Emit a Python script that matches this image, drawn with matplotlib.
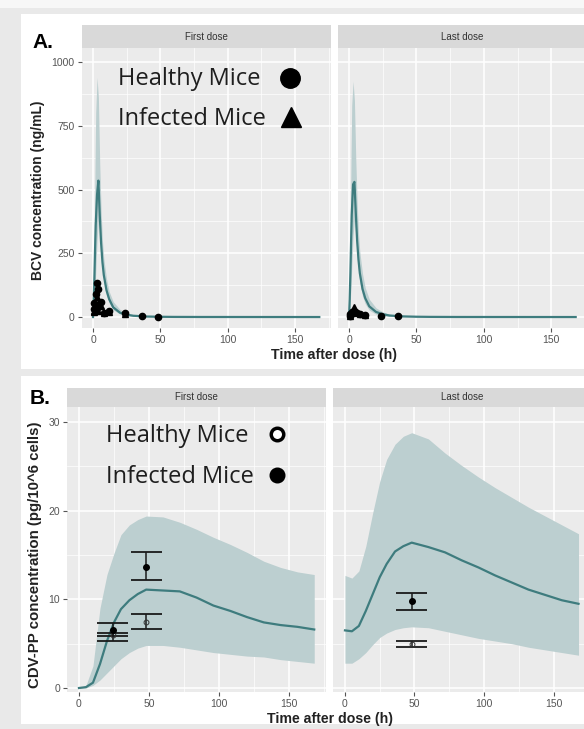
import matplotlib
matplotlib.use("Agg")
import matplotlib.pyplot as plt
from matplotlib.patches import Rectangle
from matplotlib.lines import Line2D

# ---------------- data ----------------
# Panel A: BCV plasma concentration (ng/mL)
t_A = [0, 0.5, 1, 1.5, 2, 3, 4, 5, 6, 7, 8, 10, 12, 15, 20, 25, 30, 40, 50, 60, 80, 168]
bcv_first_med = [0, 60, 150, 260, 360, 480, 535, 400, 290, 215, 165, 105, 70, 38, 17, 9, 5, 2, 1, 0.5, 0.2, 0]
bcv_first_hi = [0, 150, 350, 600, 800, 940, 860, 600, 420, 300, 230, 150, 100, 60, 30, 16, 9, 3, 1.5, 0.8, 0.3, 0]
bcv_first_lo = [0, 20, 60, 110, 170, 300, 380, 330, 250, 185, 140, 85, 55, 28, 12, 6, 3, 1, 0.5, 0.2, 0, 0]
bcv_last_med = [0, 70, 170, 290, 400, 520, 530, 410, 300, 225, 172, 110, 74, 42, 20, 11, 6, 2.5, 1.2, 0.6, 0.2, 0]
bcv_last_hi = [0, 160, 380, 640, 830, 925, 850, 620, 450, 330, 255, 170, 115, 70, 36, 20, 11, 4, 2, 1, 0.4, 0]
bcv_last_lo = [0, 25, 70, 125, 190, 320, 380, 320, 245, 180, 135, 82, 52, 27, 11, 5, 2.5, 1, 0.4, 0.2, 0, 0]

healthy_first_t = [0.5, 1, 2, 3, 4, 4, 6, 8, 12, 24, 36, 48]
healthy_first_c = [55, 30, 90, 135, 108, 40, 60, 15, 25, 15, 5, 2]
infected_first_t = [0.5, 1, 2, 3, 4, 6, 8, 12, 24]
infected_first_c = [25, 20, 30, 80, 25, 45, 15, 20, 10]
healthy_last_t = [0.5, 1, 2, 4, 6, 8, 12, 24, 36]
healthy_last_c = [3, 10, 20, 25, 15, 10, 8, 5, 5]
infected_last_t = [1, 2, 4, 6, 8, 12]
infected_last_c = [5, 15, 38, 20, 12, 8]

# Panel B: CDV-PP intracellular concentration (pg/10^6 cells)
t_B = [0, 5, 10, 15, 20, 25, 30, 36, 42, 48, 60, 72, 84, 96, 108, 120, 132, 144, 156, 168]
cdv_first_med = [0, 0.1, 0.6, 2.7, 5.3, 7.4, 8.9, 9.9, 10.6, 11.1, 11.0, 10.9, 10.2, 9.3, 8.7, 8.0, 7.4, 7.1, 6.9, 6.6]
cdv_first_hi = [0, 0.3, 2.5, 9.0, 12.8, 15.2, 17.3, 18.4, 19.0, 19.4, 19.3, 18.7, 17.9, 17.0, 16.2, 15.3, 14.3, 13.6, 13.1, 12.8]
cdv_first_lo = [0, 0, 0.3, 0.9, 1.7, 2.5, 3.3, 4.0, 4.5, 4.8, 4.8, 4.6, 4.3, 4.0, 3.8, 3.6, 3.5, 3.2, 3.0, 2.8]
cdv_last_med = [6.5, 6.4, 7.0, 8.7, 10.6, 12.5, 14.0, 15.4, 16.0, 16.4, 15.9, 15.3, 14.4, 13.6, 12.7, 11.9, 11.1, 10.5, 9.9, 9.5]
cdv_last_hi = [12.7, 12.4, 13.2, 16.0, 19.8, 23.3, 25.8, 27.5, 28.4, 28.8, 28.1, 26.5, 25.1, 23.8, 22.6, 21.5, 20.4, 19.4, 18.4, 17.4]
cdv_last_lo = [2.8, 2.8, 3.3, 4.0, 4.9, 5.7, 6.2, 6.6, 6.8, 6.9, 6.8, 6.4, 6.0, 5.6, 5.3, 5.0, 4.6, 4.3, 4.0, 3.7]

obs_first_t = [24, 48]
inf_first_mean = [6.6, 13.7]
inf_first_lo = [5.3, 12.2]
inf_first_hi = [7.3, 15.3]
hea_first_mean = [6.0, 7.5]
hea_first_lo = [5.85, 6.7]
hea_first_hi = [6.2, 8.4]
obs_last_t = [48]
inf_last_mean = [9.85]
inf_last_lo = [8.8]
inf_last_hi = [10.75]
hea_last_mean = [4.95]
hea_last_lo = [4.65]
hea_last_hi = [5.3]

x_ticks = [0, 50, 100, 150]
x_minor = [25, 75, 125, 175]
yA_ticks = [0, 250, 500, 750, 1000]
yA_minor = [125, 375, 625, 875]
yB_ticks = [0, 10, 20, 30]
yB_minor = [5, 15, 25]

# ---------------- styling ----------------
W, H = 584, 729
PANEL_BG = "#ebebeb"
STRIP_BG = "#d9d9d9"
BAND = "#bccfd0"
LINE = "#3e7c7e"
SANS = ["Liberation Sans", "DejaVu Sans"]
plt.rcParams["font.family"] = SANS

fig = plt.figure(figsize=(W / 100, H / 100), dpi=100)
fig.patch.set_facecolor("#e9e9e9")


def rect(x0, y0, x1, y1):
    """pixel box (origin top-left) -> figure fraction rect"""
    return [x0 / W, 1 - y1 / H, (x1 - x0) / W, (y1 - y0) / H]


def fx(x):
    return x / W


def fy(y):
    return 1 - y / H


# light frame with white panels
fig.add_artist(Rectangle((0, fy(8)), 1, 8 / H, transform=fig.transFigure,
                         facecolor="#f7f7f7", edgecolor="none", zorder=-5))
for (x0, y0, x1, y1) in [(21, 14, 584, 369), (21, 376, 584, 724)]:
    fig.add_artist(Rectangle((fx(x0), fy(y1)), (x1 - x0) / W, (y1 - y0) / H,
                             transform=fig.transFigure, facecolor="white",
                             edgecolor="none", zorder=-4))


def make_panel(box, strip_box, title, xlim, ylim, yt, ym, show_y):
    ax = fig.add_axes(rect(*box))
    ax.set_facecolor(PANEL_BG)
    ax.set_xlim(*xlim)
    ax.set_ylim(*ylim)
    for s in ax.spines.values():
        s.set_visible(False)
    ax.set_xticks(x_ticks)
    ax.set_xticks(x_minor, minor=True)
    ax.set_yticks(yt)
    ax.set_yticks(ym, minor=True)
    ax.grid(which="major", color="white", lw=1.1)
    ax.grid(which="minor", color="white", lw=0.5)
    ax.set_axisbelow(True)
    ax.tick_params(which="major", length=3, width=0.8, color="#555555",
                   labelsize=7.5, labelcolor="#555555", pad=2)
    ax.tick_params(which="minor", length=0)
    if not show_y:
        ax.tick_params(axis="y", which="both", length=0, labelleft=False)
    sax = fig.add_axes(rect(*strip_box))
    sax.set_facecolor(STRIP_BG)
    sax.set_xticks([])
    sax.set_yticks([])
    for s in sax.spines.values():
        s.set_visible(False)
    sax.text(0.5, 0.5, title, ha="center", va="center", fontsize=7,
             color="#333333", transform=sax.transAxes)
    return ax


XL = (-8.4, 176.4)
YA = (-43, 1055)
YB = (-0.45, 31.7)

# ---- Panel A ----
axA1 = make_panel((81.7, 48, 330.6, 328), (81.7, 25, 330.6, 48), "First dose", XL, YA, yA_ticks, yA_minor, True)
axA2 = make_panel((337.7, 48, 587, 328), (337.7, 25, 587, 48), "Last dose", XL, YA, yA_ticks, yA_minor, False)

for ax, lo, hi, med in [(axA1, bcv_first_lo, bcv_first_hi, bcv_first_med),
                        (axA2, bcv_last_lo, bcv_last_hi, bcv_last_med)]:
    ax.fill_between(t_A, lo, hi, color=BAND, lw=0, zorder=2)
    ax.plot(t_A, med, color=LINE, lw=1.6, zorder=3)

axA1.plot(healthy_first_t, healthy_first_c, "o", color="black", ms=4.5, zorder=4)
axA1.plot(infected_first_t, infected_first_c, "^", color="black", ms=4.5, zorder=4)
axA2.plot(healthy_last_t, healthy_last_c, "o", color="black", ms=4.5, zorder=4)
axA2.plot(infected_last_t, infected_last_c, "^", color="black", ms=4.5, zorder=4)

# ---- Panel B ----
axB1 = make_panel((67.2, 407, 326, 692), (67.2, 388, 326, 407), "First dose", XL, YB, yB_ticks, yB_minor, True)
axB2 = make_panel((333.3, 407, 590.2, 692), (333.3, 388, 590.2, 407), "Last dose", XL, YB, yB_ticks, yB_minor, False)

for ax, lo, hi, med in [(axB1, cdv_first_lo, cdv_first_hi, cdv_first_med),
                        (axB2, cdv_last_lo, cdv_last_hi, cdv_last_med)]:
    ax.fill_between(t_B, lo, hi, color=BAND, lw=0, zorder=2)
    ax.plot(t_B, med, color=LINE, lw=1.6, zorder=3)

CAP = 11  # half-width of error-bar caps, hours


def errbars(ax, t, mean, lo, hi, filled):
    ax.vlines(t, lo, hi, color="#1a1a1a", lw=1.1, zorder=5)
    ax.hlines(lo, [v - CAP for v in t], [v + CAP for v in t], color="#1a1a1a", lw=1.3, zorder=5)
    ax.hlines(hi, [v - CAP for v in t], [v + CAP for v in t], color="#1a1a1a", lw=1.3, zorder=5)
    if filled:
        ax.plot(t, mean, "o", color="black", ms=4, zorder=6)
    else:
        ax.plot(t, mean, "o", mfc="none", mec="#333333", mew=0.7, ms=3.5, zorder=6)


errbars(axB1, obs_first_t, hea_first_mean, hea_first_lo, hea_first_hi, False)
errbars(axB1, obs_first_t, inf_first_mean, inf_first_lo, inf_first_hi, True)
errbars(axB2, obs_last_t, hea_last_mean, hea_last_lo, hea_last_hi, False)
errbars(axB2, obs_last_t, inf_last_mean, inf_last_lo, inf_last_hi, True)

# ---- titles and labels ----
fig.text(fx(32), fy(48), "A.", fontsize=15, fontweight="bold", ha="left", va="baseline")
fig.text(fx(30), fy(404), "B.", fontsize=15, fontweight="bold", ha="left", va="baseline")

fig.text(fx(38), fy(190), "BCV concentration (ng/mL)", rotation=90, ha="center", va="center",
         fontsize=10, fontweight="bold", color="#222222")
fig.text(fx(35), fy(555), "CDV-PP concentration (pg/10^6 cells)", rotation=90, ha="center",
         va="center", fontsize=10.8, fontweight="bold", color="#222222")
fig.text(fx(334), fy(355), "Time after dose (h)", ha="center", va="center",
         fontsize=10.2, fontweight="bold", color="#222222")
fig.text(fx(330), fy(719), "Time after dose (h)", ha="center", va="center",
         fontsize=10.2, fontweight="bold", color="#222222")

# ---- in-plot keys ----
KEY_FONT = ["Open Sans", "DejaVu Sans"]
fig.text(fx(118), fy(85), "Healthy Mice", family=KEY_FONT, fontsize=17, color="#1e1e1e")
fig.text(fx(118), fy(125), "Infected Mice", family=KEY_FONT, fontsize=17, color="#1e1e1e")
fig.text(fx(106), fy(442), "Healthy Mice", family=KEY_FONT, fontsize=17, color="#1e1e1e")
fig.text(fx(106), fy(483), "Infected Mice", family=KEY_FONT, fontsize=17, color="#1e1e1e")

fig.add_artist(Line2D([fx(290)], [fy(78)], marker="o", ms=14, color="black", transform=fig.transFigure))
fig.add_artist(Line2D([fx(291)], [fy(117)], marker="^", ms=14, color="black", transform=fig.transFigure))
fig.add_artist(Line2D([fx(277)], [fy(434)], marker="o", ms=9, mfc="white", mec="black", mew=2.5,
                      transform=fig.transFigure))
fig.add_artist(Line2D([fx(277)], [fy(475)], marker="o", ms=10.5, color="black", transform=fig.transFigure))

fig.savefig("out.png", dpi=100, facecolor=fig.get_facecolor())
